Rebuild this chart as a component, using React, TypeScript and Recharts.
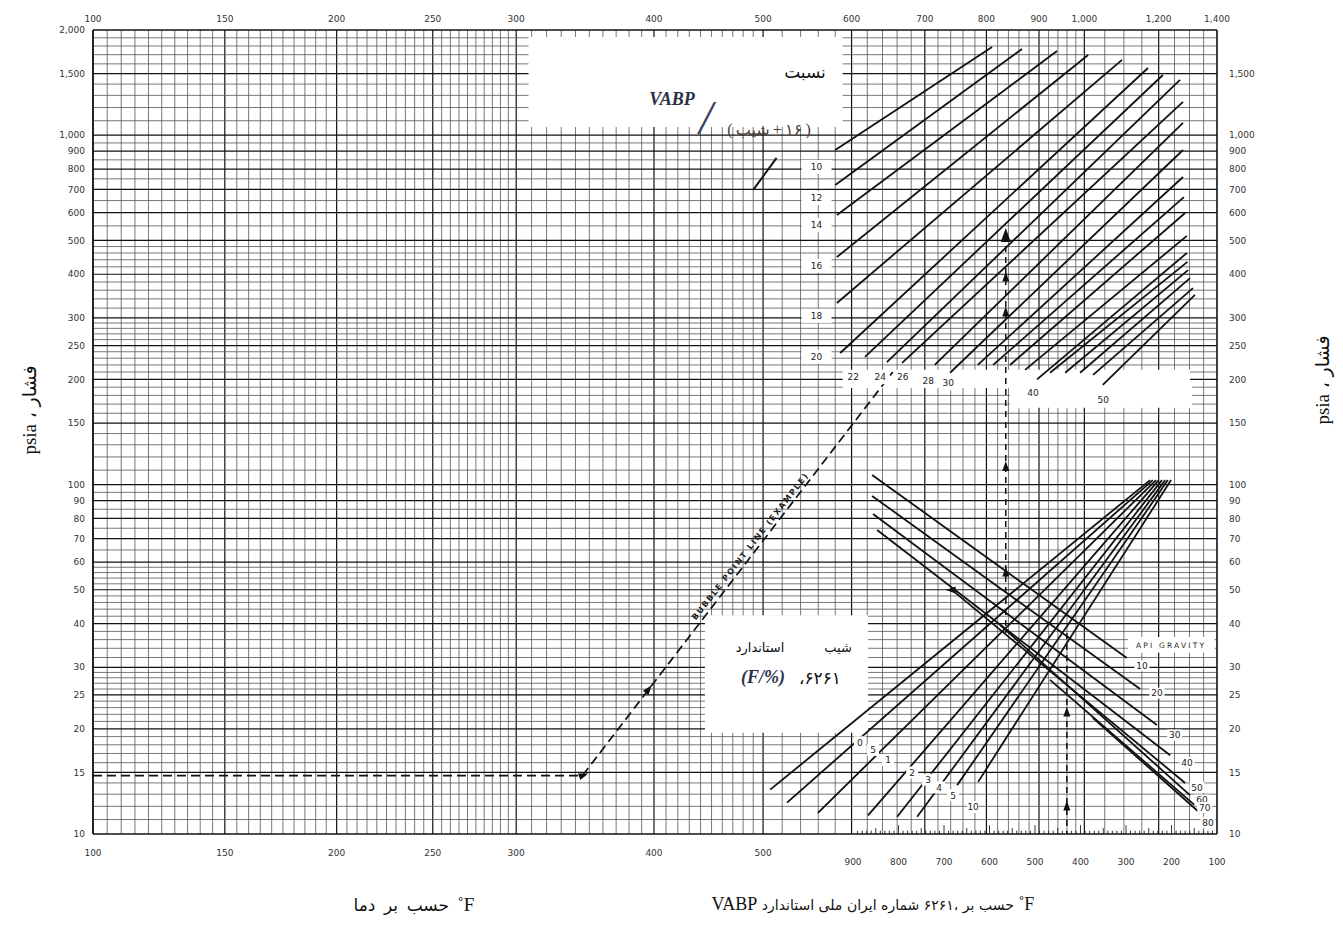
import React from 'react';
import { ComposedChart, Line, Scatter, XAxis, YAxis, ReferenceLine, ReferenceArea } from 'recharts';

// ---------- axis ticks ----------
const topTempTicks = [100, 150, 200, 250, 300, 400, 500, 600, 700, 800, 900, 1000, 1200, 1400];
const bottomTempTicks = [100, 150, 200, 250, 300, 400, 500];
const vabpTicks = [900, 800, 700, 600, 500, 400, 300, 200, 100];
const leftPressureTicks = [10, 15, 20, 25, 30, 40, 50, 60, 70, 80, 90, 100, 150, 200, 250, 300, 400, 500, 600, 700, 800, 900, 1000, 1500, 2000];
const rightPressureTicks = [10, 15, 20, 25, 30, 40, 50, 60, 70, 80, 90, 100, 150, 200, 250, 300, 400, 500, 600, 700, 800, 900, 1000, 1500];

// ---------- ratio lines VABP/(slope+16), upper right (temperature °F, psia) ----------
const ratioNames = ['10', '12', '14', '16', '18', '20', '22', '24', '26', '28', '30', '32', '34', '36', '38', '40', '42', '44', '46', '48', '50'];
const ratioT0 = [580, 580, 582, 582, 582, 586, 617, 646, 667, 715, 739, 785, 812, 843, 872, 896, 923, 956, 990, 1021, 1045];
const ratioP0 = [907, 720, 591, 448, 331, 238, 232, 224, 223, 220, 209, 220, 220, 220, 213, 200, 209, 209, 209, 206, 193];
const ratioT1 = [810, 866, 938, 1009, 1095, 1168, 1213, 1268, 1278, 1278, 1278, 1278, 1281, 1285, 1291, 1291, 1293, 1295, 1302, 1312, 1319];
const ratioP1 = [1788, 1765, 1742, 1696, 1642, 1557, 1487, 1439, 1245, 1084, 907, 759, 665, 599, 515, 460, 434, 411, 390, 365, 349];

const ratioLabelText = ['10', '12', '14', '16', '18', '20', '22', '24', '26', '28', '30', '40', '50'];
const ratioLabelT = [558, 558, 558, 558, 558, 558, 602, 637, 668, 705, 736, 888, 1046];
const ratioLabelP = [811, 661, 553, 423, 304, 232, 203, 203, 203, 198, 195, 183, 175];

// ---------- standard slope lines, lower right (VABP °F, psia) ----------
const slopeNames = ['0', '5', '1', '2', '3', '4', '5', '10'];
const slopeV0 = [1082, 1045, 977, 867, 803, 759, 671, 625];
const slopeP0 = [13.4, 12.3, 11.5, 11.3, 11.2, 11.2, 13.8, 14.1];
const slopeV1 = [247, 241, 234, 228, 221, 214, 208, 201];
const slopeP1 = [103, 103, 103, 103, 103, 103, 103, 103];
const slopeLabelV = [885, 856, 823, 770, 735, 711, 680, 636];
const slopeLabelP = [18.3, 17.4, 16.3, 15.0, 14.3, 13.6, 12.9, 11.95];

// ---------- API gravity lines, lower right (VABP °F, psia) ----------
const apiNames = ['10', '20', '30', '40', '50', '60', '70', '80'];
const apiV0 = [858, 858, 856, 847, 682, 577, 467, 373];
const apiP0 = [106.5, 92.8, 82.4, 74.1, 49.9, 39.7, 27.6, 21.5];
const apiV1 = [298, 269, 232, 203, 170, 159, 149, 138];
const apiP1 = [31.9, 26.0, 20.5, 16.8, 14.0, 12.9, 12.1, 11.5];
const apiLabelV = [265, 232, 193, 166, 144, 133, 127, 120];
const apiLabelP = [30.3, 25.3, 19.2, 16.0, 13.6, 12.5, 11.9, 10.8];

// ---------- worked example ----------
const exampleT = [100, 345, 654];
const exampleP = [14.7, 14.7, 210];
const exampleVertT = 835;
const exampleVertP = [518, 37.6];
const exampleVabp = 430;
const exampleVabpP = [37.6, 10];
const arrowT = [345, 395, 835, 835, 835, 835, 835];
const arrowP = [14.7, 25.8, 511, 390, 310, 112, 55.8];
const arrowV = [430, 430, 682];
const arrowVP = [22.2, 11.95, 49.9];

// ---------- scales ----------
// top/left temperature scale is reciprocal absolute temperature (°R)
const U = (t: number) => 1e6 * (1 / 560 - 1 / (t + 460));
const U_MAX = U(1400);
const U_V900 = 843.9;
const UV = (v: number) => U_V900 + ((900 - v) * (U_MAX - U_V900)) / 800;

const range = (a: number, b: number, s: number) => {
  const r: number[] = [];
  for (let v = a; v <= b + 1e-9; v += s) r.push(Math.round(v * 100) / 100);
  return r;
};
const gridT = [...range(100, 300, 5), ...range(310, 500, 10), ...range(520, 1000, 20), ...range(1050, 1350, 50)];
const gridP = [
  ...range(11, 30, 1), ...range(32, 60, 2), ...range(65, 100, 5), ...range(110, 300, 10),
  ...range(320, 500, 20), ...range(550, 1000, 50), ...range(1100, 1900, 100),
];
const majorT = new Set(topTempTicks);
const majorP = new Set(leftPressureTicks);
const rulerV = range(110, 890, 10);

const seg = (u0: number, p0: number, u1: number, p1: number) => [{ u: u0, p: p0 }, { u: u1, p: p1 }];
const ratioLines = ratioNames.map((n, i) => seg(U(ratioT0[i]), ratioP0[i], U(ratioT1[i]), ratioP1[i]));
const slopeLines = slopeNames.map((n, i) => seg(UV(slopeV0[i]), slopeP0[i], UV(slopeV1[i]), slopeP1[i]));
const apiLines = apiNames.map((n, i) => seg(UV(apiV0[i]), apiP0[i], UV(apiV1[i]), apiP1[i]));

const labelData = [
  ...ratioLabelText.map((t, i) => ({ u: U(ratioLabelT[i]), p: ratioLabelP[i], text: t, w: i < 6 ? 30 : 17, h: 14 })),
  ...slopeNames.map((t, i) => ({ u: UV(slopeLabelV[i]), p: slopeLabelP[i], text: t, w: 12, h: 12 })),
  ...apiNames.map((t, i) => ({ u: UV(apiLabelV[i]), p: apiLabelP[i], text: t, w: 15, h: 11 })),
  { u: UV(201), p: 34.7, text: 'API GRAVITY', w: 0, h: 0, spacing: 2.2, size: 7.5 },
  { u: U(487), p: 66.7, text: 'BUBBLE POINT LINE (EXAMPLE)', w: 0, h: 0, spacing: 1.6, size: 8, angle: -52, bold: true },
];

const arrowData = [
  ...arrowT.map((t, i) => ({ u: U(t), p: arrowP[i], angle: i === 0 ? -20 : i === 1 ? -52 : -90, big: i === 2 })),
  ...arrowV.map((v, i) => ({ u: UV(v), p: arrowVP[i], angle: i === 2 ? 180 : -90, big: false })),
];

const bottomTickU = [...bottomTempTicks.map(U), ...vabpTicks.map(UV)];
const bottomTickText = [...bottomTempTicks, ...vabpTicks].map(String);

const TICK_FONT = "'DejaVu Sans', sans-serif";
const fmt = (v: number) => v.toLocaleString('en-US');

const BottomTick = (props: any) => {
  const { x, y, index } = props;
  const isV = index >= bottomTempTicks.length;
  return (
    <text x={x} y={y + (isV ? 31 : 22)} textAnchor="middle" fontSize={9} fill="#333" fontFamily={TICK_FONT}>
      {bottomTickText[index]}
    </text>
  );
};

const textShape = (props: any) => {
  const { cx, cy, payload } = props;
  const size = payload.size || 9;
  return (
    <g transform={`rotate(${payload.angle || 0} ${cx} ${cy})`}>
      {payload.w > 0 && <rect x={cx - payload.w / 2} y={cy - payload.h / 2} width={payload.w} height={payload.h} fill="#fff" />}
      <text
        x={cx}
        y={cy + size * 0.36}
        textAnchor="middle"
        fontSize={size}
        letterSpacing={payload.spacing || 0}
        fontWeight={payload.bold ? 'bold' : 'normal'}
        fill="#222"
        fontFamily={TICK_FONT}
      >
        {payload.text}
      </text>
    </g>
  );
};

const arrowShape = (props: any) => {
  const { cx, cy, payload } = props;
  const s = payload.big ? 5 : 3.5;
  return (
    <path
      d={`M${s * 1.8},0 L${-s},${s} L${-s},${-s} Z`}
      transform={`translate(${cx},${cy}) rotate(${payload.angle})`}
      fill="#111"
    />
  );
};

// words are laid out left to right in the order they appear in the figure
const Words = ({ x, y, size = 18, rotate = 0, gap = '0.3em', words, style = {} }: any) => (
  <div
    style={{
      position: 'absolute',
      left: x,
      top: y,
      transform: `translate(-50%, -50%) rotate(${rotate}deg)`,
      fontSize: size,
      lineHeight: 1.1,
      whiteSpace: 'nowrap',
      display: 'flex',
      alignItems: 'baseline',
      gap,
      direction: 'ltr',
      color: '#111',
      ...style,
    }}
  >
    {words.map((w: any, i: number) =>
      typeof w === 'string' ? <span key={i}>{w}</span> : <span key={i} style={{ fontSize: w.size }}>{w.t}</span>
    )}
  </div>
);

const MATH = { fontFamily: "'Liberation Serif', serif", fontStyle: 'italic', fontWeight: 'bold', color: '#2b3046' };

export default function App() {
  return (
    <div style={{ position: 'relative', width: 1343, height: 927, background: '#fff', fontFamily: "'Liberation Serif', 'DejaVu Sans', serif" }}>
      <style>{'body{margin:0}'}</style>
      <ComposedChart width={1343} height={927} margin={{ top: 10, right: 66, bottom: 53, left: 33 }}>
        <XAxis
          dataKey="u"
          type="number"
          domain={[0, U_MAX]}
          allowDataOverflow
          ticks={bottomTickU}
          interval={0}
          tick={<BottomTick />}
          tickSize={0}
          tickMargin={0}
          height={40}
          axisLine={{ stroke: '#111', strokeWidth: 1.6 }}
        />
        <XAxis
          xAxisId="top"
          orientation="top"
          dataKey="u"
          type="number"
          domain={[0, U_MAX]}
          allowDataOverflow
          ticks={topTempTicks.map(U)}
          interval={0}
          tickFormatter={(v: number, i: number) => fmt(topTempTicks[i])}
          tick={{ fontSize: 9, fill: '#333', fontFamily: TICK_FONT }}
          tickSize={0}
          tickMargin={8}
          height={20}
          axisLine={{ stroke: '#111', strokeWidth: 1.6 }}
        />
        <YAxis
          type="number"
          scale="log"
          domain={[10, 2000]}
          allowDataOverflow
          ticks={leftPressureTicks}
          interval={0}
          tickFormatter={fmt}
          tick={{ fontSize: 9, fill: '#333', fontFamily: TICK_FONT }}
          tickSize={0}
          tickMargin={8}
          width={60}
          axisLine={{ stroke: '#111', strokeWidth: 1.6 }}
        />
        <YAxis
          yAxisId="right"
          orientation="right"
          type="number"
          scale="log"
          domain={[10, 2000]}
          allowDataOverflow
          ticks={rightPressureTicks}
          interval={0}
          tickFormatter={fmt}
          tick={{ fontSize: 9, fill: '#333', fontFamily: TICK_FONT, textAnchor: 'start' }}
          tickSize={0}
          tickMargin={12}
          width={60}
          axisLine={{ stroke: '#111', strokeWidth: 1.6 }}
        />

        {/* graph paper */}
        {gridT.map((t) => (
          <ReferenceLine key={'gt' + t} x={U(t)} stroke={majorT.has(t) ? '#111' : '#555'} strokeWidth={majorT.has(t) ? 1.2 : 0.8} zIndex={50} />
        ))}
        {gridP.map((p) => (
          <ReferenceLine key={'gp' + p} y={p} stroke={majorP.has(p) ? '#111' : '#555'} strokeWidth={majorP.has(p) ? 1.2 : 0.8} zIndex={50} />
        ))}

        {/* white label fields */}
        <ReferenceArea x1={U(308)} x2={U(589)} y1={1056} y2={1910} fill="#fff" fillOpacity={1} stroke="none" zIndex={60} />
        <ReferenceArea x1={U(444)} x2={U(621)} y1={19.5} y2={42.3} fill="#fff" fillOpacity={1} stroke="none" zIndex={60} />
        <ReferenceArea x1={U(589)} x2={U(1302)} y1={189} y2={213} fill="#fff" fillOpacity={1} stroke="none" zIndex={60} />
        <ReferenceArea x1={U(843)} x2={U(1309)} y1={166} y2={192} fill="#fff" fillOpacity={1} stroke="none" zIndex={60} />
        <ReferenceArea x1={UV(296)} x2={UV(105)} y1={33} y2={36.6} fill="#fff" fillOpacity={1} stroke="none" zIndex={60} />

        {/* VABP ruler along the lower right edge */}
        {rulerV.map((v) => (
          <ReferenceLine
            key={'rv' + v}
            segment={[{ x: UV(v), y: 10 }, { x: UV(v), y: v % 100 === 0 ? 10.6 : v % 50 === 0 ? 10.4 : 10.22 }]}
            stroke="#222"
            strokeWidth={0.9}
            zIndex={450}
          />
        ))}
        <ReferenceLine segment={[{ x: U(490), y: 697 }, { x: U(514), y: 861 }]} stroke="#111" strokeWidth={2} zIndex={450} />

        {ratioLines.map((d, i) => (
          <Line key={'r' + i} data={d} dataKey="p" type="linear" stroke="#111" strokeWidth={1.8} dot={false} isAnimationActive={false} legendType="none" />
        ))}
        {slopeLines.map((d, i) => (
          <Line key={'s' + i} data={d} dataKey="p" type="linear" stroke="#111" strokeWidth={1.8} dot={false} isAnimationActive={false} legendType="none" />
        ))}
        {apiLines.map((d, i) => (
          <Line key={'a' + i} data={d} dataKey="p" type="linear" stroke="#111" strokeWidth={1.8} dot={false} isAnimationActive={false} legendType="none" />
        ))}

        {/* example path */}
        <Line
          data={exampleT.map((t, i) => ({ u: U(t), p: exampleP[i] }))}
          dataKey="p"
          type="linear"
          stroke="#111"
          strokeWidth={1.7}
          strokeDasharray="9 5"
          dot={false}
          isAnimationActive={false}
          legendType="none"
        />
        <Line
          data={exampleVertP.map((p) => ({ u: U(exampleVertT), p }))}
          dataKey="p"
          type="linear"
          stroke="#111"
          strokeWidth={1.5}
          strokeDasharray="6 5"
          dot={false}
          isAnimationActive={false}
          legendType="none"
        />
        <Line
          data={exampleVabpP.map((p) => ({ u: UV(exampleVabp), p }))}
          dataKey="p"
          type="linear"
          stroke="#111"
          strokeWidth={1.5}
          strokeDasharray="6 5"
          dot={false}
          isAnimationActive={false}
          legendType="none"
        />

        {/* keep the top and right axes bound */}
        <Line xAxisId="top" data={seg(0, 10, U_MAX, 10)} dataKey="p" stroke="none" dot={false} isAnimationActive={false} legendType="none" />
        <Line yAxisId="right" data={seg(0, 10, U_MAX, 10)} dataKey="p" stroke="none" dot={false} isAnimationActive={false} legendType="none" />

        <Scatter data={arrowData} dataKey="p" shape={arrowShape} isAnimationActive={false} legendType="none" />
        <Scatter data={labelData} dataKey="p" shape={textShape} isAnimationActive={false} legendType="none" />
      </ComposedChart>

      {/* ratio formula */}
      <Words x={805} y={73} size={17} words={['نسبت']} />
      <Words x={672} y={100} size={18} words={['VABP']} style={MATH} />
      <Words x={706} y={118} size={48} words={['/']} style={{ ...MATH, fontWeight: 'normal', color: '#3a4566' }} />
      <Words x={769} y={130} size={16} gap="0.2em" words={['(', 'شیب', '+', '۱۶', ')']} style={{ color: '#4a4038' }} />

      {/* slope box */}
      <Words x={760} y={648} size={13} words={['استاندارد']} />
      <Words x={838} y={648} size={13} words={['شیب']} />
      <Words x={763} y={678} size={18} words={['(F/%)']} style={MATH} />
      <Words x={820} y={679} size={17} words={['،۶۲۶۱']} />

      {/* axis titles */}
      <Words x={30} y={410} size={19} rotate={-90} words={['psia', '،', 'فشار']} />
      <Words x={1323} y={380} size={19} rotate={-90} words={['psia', '،', 'فشار']} />
      <Words x={414} y={905} size={19} gap="0.45em" words={[{ t: 'دما', size: 17 }, { t: 'بر', size: 17 }, { t: 'حسب', size: 17 }, '˚F']} />
      <Words
        x={873}
        y={905}
        size={18}
        gap="0.25em"
        words={[
          'VABP',
          { t: 'استاندارد', size: 14 },
          { t: 'ملی', size: 14 },
          { t: 'ایران', size: 14 },
          { t: 'شماره', size: 14 },
          { t: '۶۲۶۱،', size: 14 },
          { t: 'بر', size: 14 },
          { t: 'حسب', size: 14 },
          '˚F',
        ]}
      />
    </div>
  );
}
